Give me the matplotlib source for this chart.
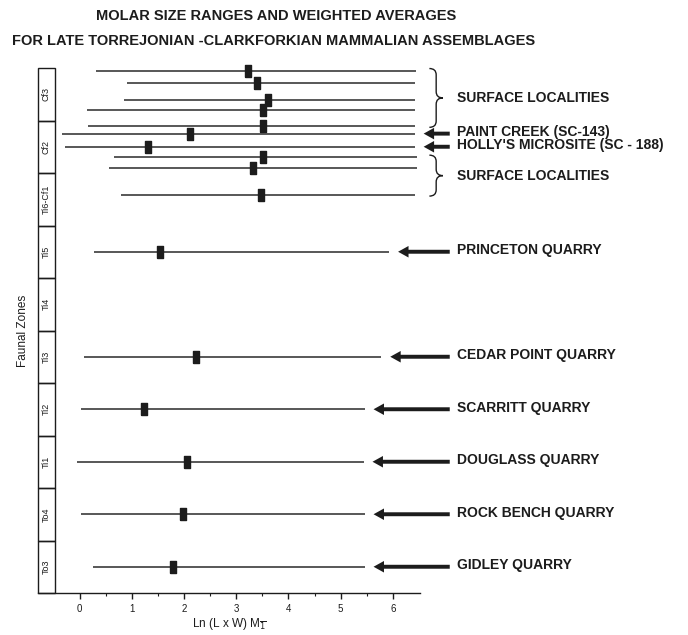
import numpy as np
import matplotlib
matplotlib.use("Agg")
import matplotlib.pyplot as plt
from matplotlib.patches import Rectangle, FancyArrow, PathPatch
from matplotlib.path import Path

# faunal zones, bottom to top
zones = ["To3", "To4", "Ti1", "Ti2", "Ti3", "Ti4", "Ti5", "Ti6-Cf1", "Cf2", "Cf3"]

# assemblages: stratigraphic level (zone units), size range and weighted average of Ln(L x W) M1
level = [9.95, 9.71, 9.39, 9.20, 8.90, 8.75, 8.50, 8.30, 8.10, 7.59,
         6.50, 4.50, 3.50, 2.50, 1.50, 0.50]
low = [0.32, 0.90, 0.84, 0.13, 0.15, -0.34, -0.29, 0.65, 0.57, 0.80,
       0.27, 0.08, 0.03, -0.06, 0.03, 0.25]
high = [6.44, 6.42, 6.42, 6.42, 6.42, 6.42, 6.42, 6.46, 6.46, 6.42,
        5.93, 5.78, 5.46, 5.44, 5.46, 5.46]
wavg = [3.23, 3.40, 3.61, 3.51, 3.51, 2.11, 1.30, 3.51, 3.32, 3.48,
        1.53, 2.22, 1.23, 2.06, 1.98, 1.79]
site = ["", "", "", "", "", "PAINT CREEK (SC-143)", "HOLLY'S MICROSITE (SC - 188)", "", "", "",
        "PRINCETON QUARRY", "CEDAR POINT QUARRY", "SCARRITT QUARRY", "DOUGLASS QUARRY",
        "ROCK BENCH QUARRY", "GIDLEY QUARRY"]
# index ranges of the surface locality groups
surface_groups = [(0, 4), (7, 9)]

plt.rcParams['font.family'] = ['Liberation Sans', 'DejaVu Sans']
ink = "#1c1c1c"

fig = plt.figure(figsize=(6.88, 6.35), dpi=100)
ax = fig.add_axes([38 / 688, 1 - 593 / 635, (420 - 38) / 688, (593 - 68) / 635])
ax.set_xlim(-0.8, 6.52)
ax.set_ylim(0, 10)

for s in ["top", "right", "left"]:
    ax.spines[s].set_visible(False)
ax.spines["bottom"].set_linewidth(1.0)
ax.spines["bottom"].set_color(ink)
ax.set_yticks([])
ax.set_xticks(range(0, 7))
ax.set_xticks(np.arange(0.5, 6.5, 1.0), minor=True)
ax.tick_params(axis="x", which="major", direction="out", length=4, width=1, pad=4,
               labelsize=7, colors=ink)
ax.tick_params(axis="x", which="minor", direction="out", length=2, width=0.8, colors=ink)
ax.set_xlabel(r"Ln (L x W) M$_{\overline{1}}$", fontsize=8.5, color=ink, labelpad=1)

# zone column
col_x, col_w = -0.8, 0.32
for i, z in enumerate(zones):
    ax.add_patch(Rectangle((col_x, i), col_w, 1, fill=False, lw=1, ec=ink, clip_on=False))
    ax.text(col_x + col_w / 2, i + 0.5, z, rotation=90, ha="center", va="center",
            fontsize=6.5, color=ink)
fig.text(23 / 688, 1 - 331 / 635, "Faunal Zones", rotation=90, ha="center", va="center",
         fontsize=8.5, color=ink)

# ranges and averages
bar = [(-0.55, -1), (0.55, -1), (0.55, 1), (-0.55, 1), (-0.55, -1)]
for y, lo, hi, m in zip(level, low, high, wavg):
    ax.plot([lo, hi], [y, y], color="#2a2a2a", lw=1.1, solid_capstyle="butt", clip_on=False)
    ax.plot([m], [y], marker=bar, markersize=8, color=ink, mec=ink, ls="none", clip_on=False)

# arrows and labels
tail_x, gap, text_x = 7.09, 0.17, 7.22
for y, hi, name in zip(level, high, site):
    if not name:
        continue
    head_x = hi + gap
    ax.add_patch(FancyArrow(tail_x, y, head_x - tail_x, 0, width=0.075, head_width=0.22,
                            head_length=0.2, length_includes_head=True, color=ink,
                            lw=0, clip_on=False))
    ax.text(text_x, y + 0.03, name, ha="left", va="center", fontsize=10,
            fontweight="bold", color=ink)


def brace(x, y0, y1, w, r):
    ym = (y0 + y1) / 2
    xm = x + w / 2
    verts = [(x, y1), (xm, y1), (xm, y1 - r), (xm, ym + r), (xm, ym), (x + w, ym),
             (xm, ym), (xm, ym - r), (xm, y0 + r), (xm, y0), (x, y0)]
    codes = [Path.MOVETO, Path.CURVE3, Path.CURVE3, Path.LINETO, Path.CURVE3, Path.CURVE3,
             Path.CURVE3, Path.CURVE3, Path.LINETO, Path.CURVE3, Path.CURVE3]
    ax.add_patch(PathPatch(Path(verts, codes), fill=False, lw=1.0, ec=ink, clip_on=False))
    return ym


for a, b in surface_groups:
    top = level[a] + 0.04
    bot = level[b] - 0.03
    ym = brace(6.70, bot, top, 0.26, 0.12)
    ax.text(text_x, ym, "SURFACE LOCALITIES", ha="left", va="center", fontsize=10,
            fontweight="bold", color=ink)

fig.text(276 / 688, 1 - 16.5 / 635, "MOLAR SIZE RANGES AND WEIGHTED AVERAGES",
         ha="center", va="center", fontsize=10.5, fontweight="bold", color=ink)
fig.text(274 / 688, 1 - 41 / 635, "FOR LATE TORREJONIAN -CLARKFORKIAN MAMMALIAN ASSEMBLAGES",
         ha="center", va="center", fontsize=10.5, fontweight="bold", color=ink)

fig.savefig("out.png", dpi=100, facecolor="white")
